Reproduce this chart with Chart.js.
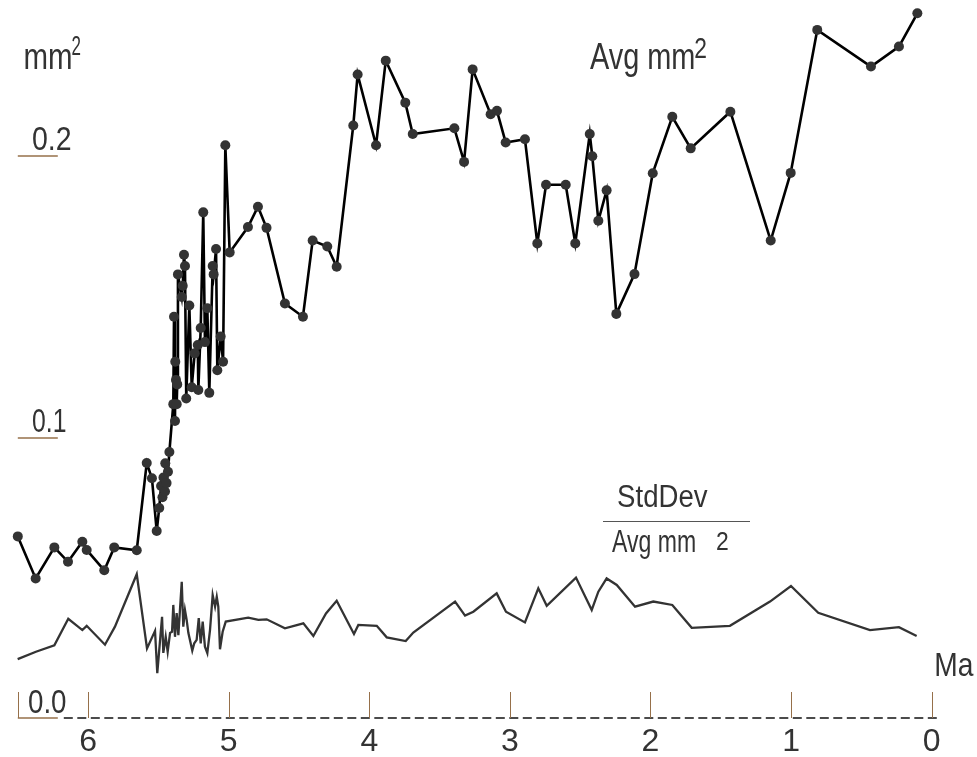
<!DOCTYPE html>
<html><head><meta charset="utf-8">
<script src="https://cdn.jsdelivr.net/npm/chart.js@4/dist/chart.umd.min.js"></script>
<style>html,body{margin:0;padding:0;background:#fff;}#wrap{width:977px;height:757px;position:relative;}</style>
</head><body><div id="wrap"><canvas id="c" width="977" height="757"></canvas></div>
<script>
// Average area (mm^2) per sample, by age (Ma)
const avgAge = [6.50,6.373,6.240,6.143,6.041,6.010,5.885,5.814,5.654,5.583,5.546,5.512,5.494,5.481,5.471,5.464,5.453,5.451,5.442,5.432,5.422,5.394,5.389,5.382,5.380,5.375,5.370,5.366,5.361,5.334,5.327,5.318,5.311,5.302,5.280,5.263,5.242,5.220,5.216,5.199,5.181,5.169,5.152,5.138,5.114,5.107,5.090,5.081,5.057,5.040,5.024,4.993,4.863,4.792,4.731,4.600,4.472,4.403,4.299,4.232,4.114,4.083,3.952,3.883,3.744,3.691,3.395,3.326,3.265,3.137,3.092,3.030,2.893,2.805,2.743,2.603,2.535,2.432,2.414,2.371,2.312,2.243,2.114,1.984,1.845,1.714,1.432,1.145,1.003,0.814,0.432,0.233,0.102];
const avgArea = [0.0651,0.0502,0.0612,0.0561,0.0632,0.0603,0.0531,0.0612,0.0602,0.0911,0.0857,0.0670,0.0752,0.083,0.079,0.086,0.081,0.091,0.084,0.088,0.0950,0.112,0.143,0.106,0.127,0.1206,0.112,0.119,0.158,0.150,0.154,0.165,0.161,0.114,0.147,0.118,0.130,0.133,0.117,0.139,0.180,0.134,0.146,0.116,0.161,0.158,0.167,0.124,0.136,0.127,0.2038,0.1658,0.1748,0.182,0.1745,0.1477,0.1430,0.1700,0.1679,0.1607,0.2108,0.2289,0.2038,0.2338,0.2189,0.2078,0.2098,0.1979,0.2307,0.2148,0.2160,0.2048,0.2059,0.1690,0.1898,0.1898,0.1690,0.2078,0.1999,0.1770,0.1878,0.1440,0.1581,0.1939,0.2139,0.2027,0.2157,0.1700,0.1940,0.2447,0.2317,0.2388,0.2506];
// StdDev / Avg curve (drawn in plot units)
const ratioAge = [6.501,6.371,6.240,6.141,6.041,6.010,5.880,5.809,5.654,5.581,5.524,5.508,5.474,5.465,5.448,5.434,5.417,5.403,5.394,5.382,5.370,5.358,5.334,5.323,5.311,5.299,5.287,5.259,5.245,5.228,5.213,5.199,5.185,5.169,5.152,5.133,5.114,5.097,5.085,5.074,5.062,5.043,5.021,4.861,4.789,4.730,4.600,4.469,4.398,4.308,4.232,4.109,4.078,3.947,3.876,3.741,3.687,3.390,3.319,3.260,3.094,3.028,2.893,2.798,2.738,2.530,2.418,2.371,2.312,2.240,2.110,1.980,1.845,1.707,1.435,1.150,1.001,0.807,0.439,0.233,0.107];
const ratioValue = [0.0216,0.0242,0.0265,0.0359,0.0319,0.0334,0.0267,0.0331,0.0517,0.0254,0.0316,0.0166,0.0366,0.0238,0.0295,0.0242,0.0309,0.0313,0.0408,0.0295,0.0379,0.0301,0.0490,0.0331,0.0390,0.0355,0.0309,0.0246,0.0272,0.0284,0.0361,0.0272,0.0349,0.0260,0.0237,0.0319,0.0443,0.0402,0.0437,0.0402,0.0251,0.0313,0.0349,0.0363,0.0355,0.0357,0.0325,0.0343,0.0298,0.0378,0.0423,0.0305,0.0337,0.0334,0.0293,0.0280,0.0310,0.0420,0.0370,0.0384,0.0449,0.0384,0.0346,0.0467,0.0405,0.0505,0.0390,0.0455,0.0502,0.0479,0.0402,0.0420,0.0408,0.0327,0.0334,0.0420,0.0475,0.0380,0.0319,0.0329,0.0298];
const xTickValues = [6,5,4,3,2,1,0];
const xTickLabels = ['6','5','4','3','2','1','0'];
const yTickValues = [0.2,0.1,0.0];
const yTickLabels = ['0.2','0.1','0.0'];
const xMin = 0, xMax = 6.5, yMin = 0, yMax = 0.2553;

const FONT = '"Liberation Sans", Arial, sans-serif';
const TXT = '#333333';
const TICK = '#96704a';

const avgData = avgAge.map((a,i)=>({x:a,y:avgArea[i]}));
const ratioData = ratioAge.map((a,i)=>({x:a,y:ratioValue[i]}));

// draw text condensed to a target ink width
function fitText(ctx, txt, x, y, size, width){
  ctx.save();
  ctx.font = size+'px '+FONT;
  const m = ctx.measureText(txt);
  const w = m.actualBoundingBoxRight + m.actualBoundingBoxLeft;
  const s = width / w;
  ctx.translate(x, y);
  ctx.scale(s, 1);
  ctx.fillText(txt, m.actualBoundingBoxLeft, 0);
  ctx.restore();
}

const decor = {
  id:'decor',
  beforeDatasetsDraw(chart){
    const {ctx, scales:{x,y}} = chart;
    const y0 = y.getPixelForValue(0);
    const xl = x.getPixelForValue(xMax);
    ctx.save();
    ctx.strokeStyle = '#111'; ctx.lineWidth = 1.5; ctx.setLineDash([9,4.5]);
    ctx.beginPath(); ctx.moveTo(xl+46, y0-2); ctx.lineTo(x.getPixelForValue(0)+8, y0-2); ctx.stroke();
    ctx.setLineDash([]);
    ctx.strokeStyle = TICK; ctx.lineWidth = 1;
    [...xTickValues, xMax].forEach(v=>{
      const px = Math.round(x.getPixelForValue(v))+0.5;
      ctx.beginPath(); ctx.moveTo(px, y0-28); ctx.lineTo(px, y0-2); ctx.stroke();
    });
    ctx.lineWidth = 1.5;
    ctx.fillStyle = TXT; ctx.textBaseline='alphabetic'; ctx.textAlign='left';
    const labelWidths = [38, 33, 37];
    yTickValues.forEach((v,i)=>{
      const py = y.getPixelForValue(v) - (v===0?2:0);
      ctx.beginPath(); ctx.moveTo(xl, py); ctx.lineTo(xl+40, py); ctx.stroke();
      fitText(ctx, yTickLabels[i], xl+(v===0?11:15), py-(v===0?5:6), 34, labelWidths[i]);
    });
    ctx.restore();
  },
  afterDraw(chart){
    const {ctx} = chart;
    ctx.save();
    ctx.fillStyle = TXT; ctx.textAlign='left'; ctx.textBaseline='alphabetic';
    fitText(ctx, 'mm', 25, 69, 37, 46);
    fitText(ctx, '2', 72, 55, 28, 8.5);
    fitText(ctx, 'Avg mm', 590, 69, 37, 104);
    fitText(ctx, '2', 695, 58, 29, 11);
    fitText(ctx, 'StdDev', 618, 507, 31, 90);
    fitText(ctx, 'Avg mm', 612, 552, 32, 83);
    fitText(ctx, '2', 717, 550, 25, 11);
    fitText(ctx, 'Ma', 936, 676, 33, 38);
    ctx.strokeStyle = '#555'; ctx.lineWidth = 1;
    ctx.beginPath(); ctx.moveTo(603, 521.5); ctx.lineTo(750, 521.5); ctx.stroke();
    ctx.restore();
  }
};

new Chart(document.getElementById('c'), {
  type:'line',
  data:{datasets:[
    {label:'Avg mm²', data:avgData, borderColor:'#000', borderWidth:2.6, pointRadius:5, pointBackgroundColor:'#333', pointBorderWidth:0, pointHoverRadius:5, tension:0, clip:false, order:1},
    {label:'StdDev / Avg mm²', data:ratioData, borderColor:'#333', borderWidth:2.3, pointRadius:0, tension:0, clip:false, order:2}
  ]},
  options:{
    responsive:false, animation:false, events:[],
    layout:{autoPadding:false, padding:{left:17.8, right:45.3, top:0, bottom:0}},
    plugins:{legend:{display:false}, tooltip:{enabled:false}},
    scales:{
      x:{type:'linear', min:xMin, max:xMax, reverse:true,
         grid:{display:false, drawTicks:false}, border:{display:false},
         afterBuildTicks:(s)=>{ s.ticks = xTickValues.map(v=>({value:v})); },
         afterFit:(s)=>{ s.height = 37; },
         ticks:{autoSkip:false, maxRotation:0, padding:6, color:TXT, font:{family:FONT, size:32, lineHeight:1},
                callback:(v)=>{ const i = xTickValues.indexOf(v); return i>=0 ? xTickLabels[i] : ''; }}},
      y:{type:'linear', min:yMin, max:yMax, display:false}
    }
  },
  plugins:[decor]
});
</script></body></html>
